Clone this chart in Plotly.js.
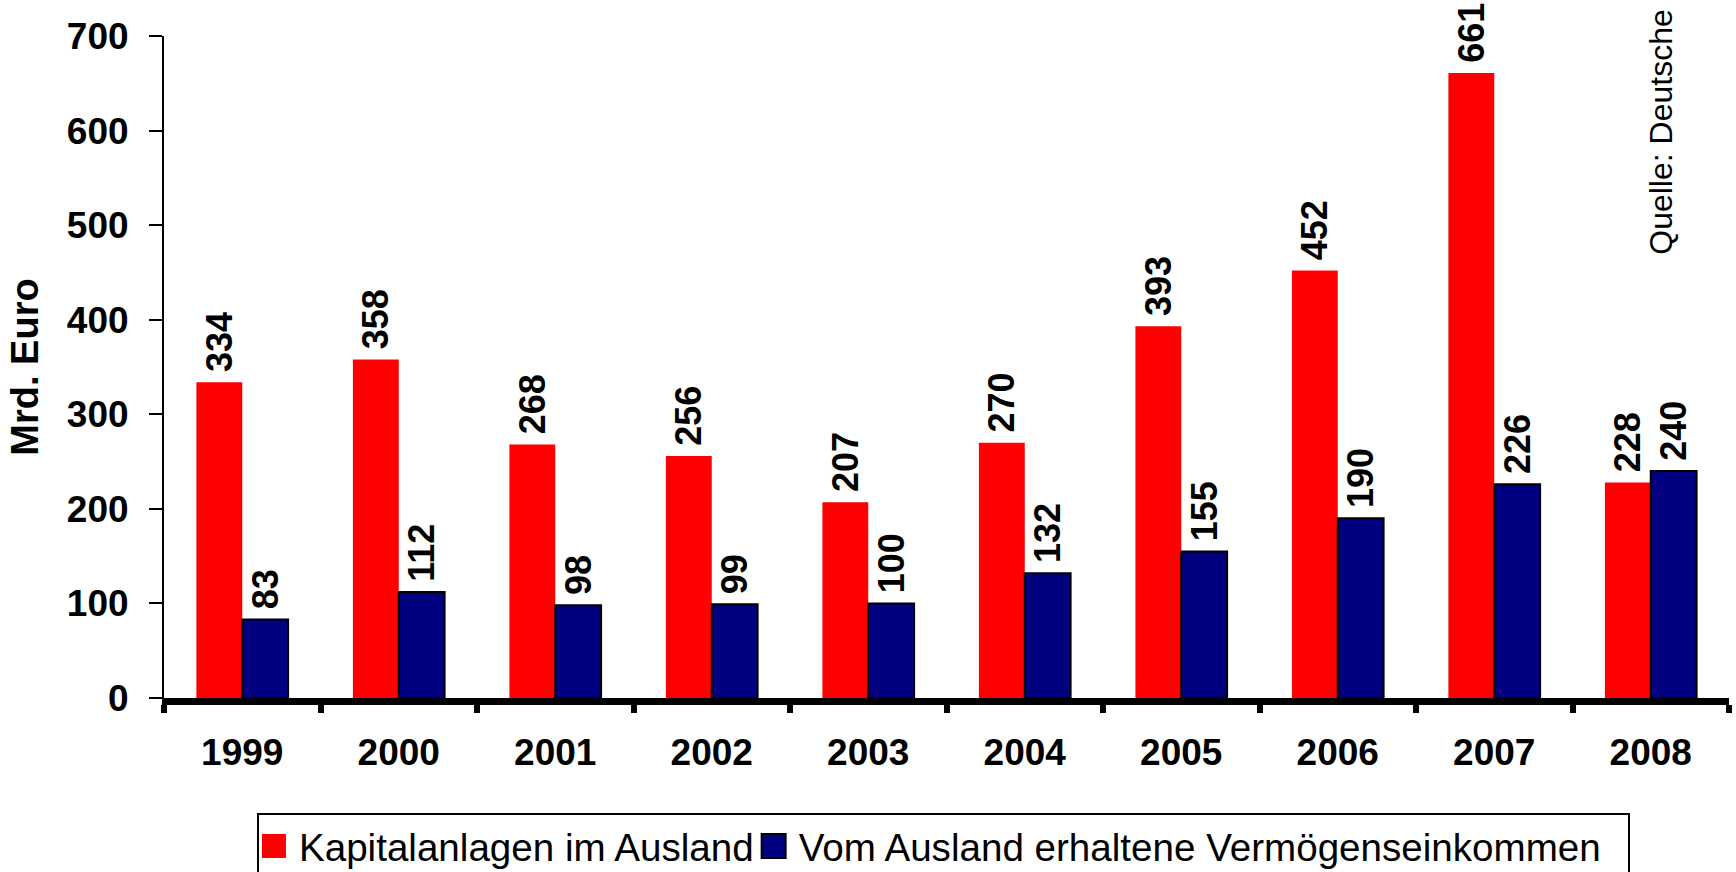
<!DOCTYPE html>
<html>
<head>
<meta charset="utf-8">
<script src="https://cdn.plot.ly/plotly-3.0.1.min.js"></script>
<style>
html, body { margin: 0; padding: 0; background: #fff; }
#chart { width: 1736px; height: 872px; }
.legendpoints path { transform: translate(15px, 0px) scale(2); vector-effect: non-scaling-stroke; }
</style>
</head>
<body>
<div id="chart"></div>
<script>
var years = ['1999','2000','2001','2002','2003','2004','2005','2006','2007','2008'];
var kapitalanlagen = [334, 358, 268, 256, 207, 270, 393, 452, 661, 228];
var vermoegenseinkommen = [83, 112, 98, 99, 100, 132, 155, 190, 226, 240];
var seriesNames = ['Kapitalanlagen im Ausland', 'Vom Ausland erhaltene Vermögenseinkommen'];
var yTicks = [0, 100, 200, 300, 400, 500, 600, 700];
var yTitle = 'Mrd. Euro';
var sourceText = 'Quelle: Deutsche';

var FONT = 'Liberation Sans, Arial, Helvetica, sans-serif';

var labelFont = {family: FONT, size: 36, color: '#000', weight: 'bold'};

var traces = [
  {
    type: 'bar', name: seriesNames[0], x: years, y: kapitalanlagen,
    marker: {color: '#FF0000', line: {width: 0}},
    texttemplate: '\u2009%{y}', textposition: 'outside', textangle: -90,
    constraintext: 'none',
    outsidetextfont: labelFont, cliponaxis: false, hoverinfo: 'none'
  },
  {
    type: 'bar', name: seriesNames[1] + '\u00a0\u00a0', x: years, y: vermoegenseinkommen,
    marker: {color: '#000080', line: {width: 2, color: '#000'}},
    texttemplate: '\u2009%{y}', textposition: 'outside', textangle: -90,
    constraintext: 'none',
    outsidetextfont: labelFont, cliponaxis: false, hoverinfo: 'none'
  }
];

var layout = {
  width: 1736, height: 872,
  paper_bgcolor: '#fff', plot_bgcolor: '#fff',
  margin: {l: 164, r: 7, t: 36, b: 174, autoexpand: false},
  barmode: 'group', bargap: 0.414, bargroupgap: 0,
  showlegend: true,
  font: {family: FONT, color: '#000'},
  xaxis: {
    type: 'category', range: [-0.5, 9.5],
    showline: true, linecolor: '#000', linewidth: 7,
    ticks: 'outside', tickson: 'boundaries', ticklen: 8, tickwidth: 6, tickcolor: '#000',
    tickfont: {family: FONT, size: 37, color: '#000', weight: 'bold'},
    ticklabelstandoff: 16,
    showgrid: false, zeroline: false, fixedrange: true
  },
  yaxis: {
    range: [0, 700], tickvals: yTicks, ticktext: yTicks.map(String),
    showline: true, linecolor: '#000', linewidth: 2,
    ticks: 'outside', ticklen: 13, tickwidth: 2, tickcolor: '#000',
    tickfont: {family: FONT, size: 37, color: '#000', weight: 'bold'},
    ticklabelstandoff: 13,
    showgrid: false, zeroline: false, fixedrange: true,
    title: {text: yTitle, font: {family: FONT, size: 38, color: '#000', weight: 'bold'}, standoff: 17}
  },
  legend: {
    orientation: 'h', x: 0.0594, xanchor: 'left', y: -0.173, yanchor: 'top',
    bordercolor: '#000', borderwidth: 2, bgcolor: '#fff',
    font: {family: FONT, size: 38.6, color: '#000'},
    traceorder: 'normal'
  },
  annotations: [{
    text: sourceText, xref: 'paper', yref: 'paper', x: 0.9566, y: 0.854,
    xanchor: 'center', yanchor: 'middle', textangle: -90, showarrow: false,
    font: {family: FONT, size: 32, color: '#000'}
  }]
};

Plotly.newPlot('chart', traces, layout, {staticPlot: true, displayModeBar: false});
</script>
</body>
</html>
